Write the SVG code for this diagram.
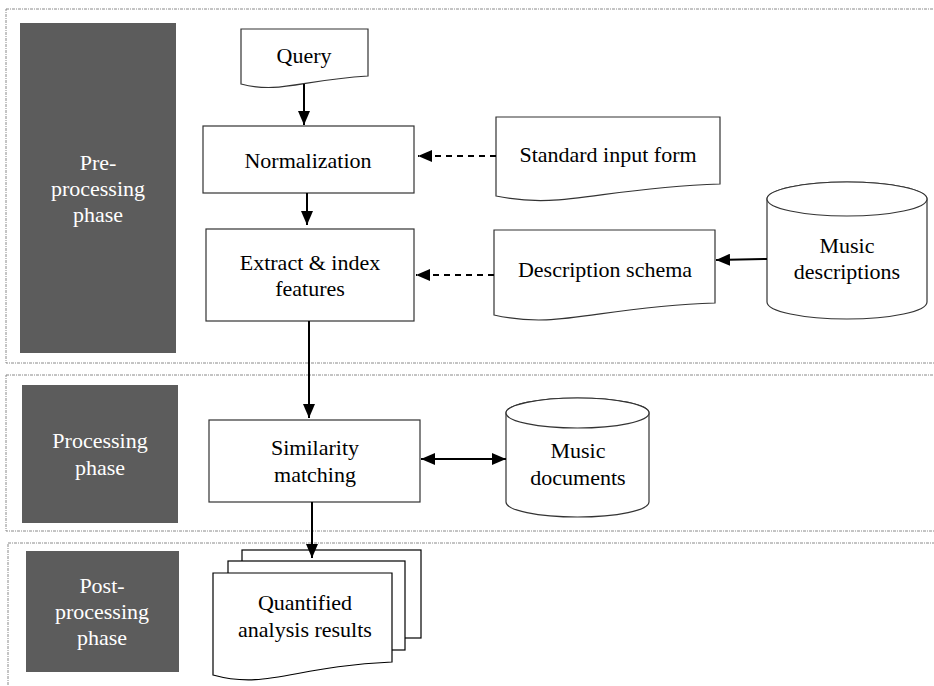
<svg xmlns="http://www.w3.org/2000/svg" width="934" height="686" viewBox="0 0 934 686">
<defs>
<marker id="ah" viewBox="0 0 14 12" refX="14" refY="6" markerWidth="14" markerHeight="12" markerUnits="userSpaceOnUse" orient="auto-start-reverse">
<path d="M0,0 L14,6 L0,12 Z" fill="#000"/>
</marker>
</defs>
<rect width="934" height="686" fill="#fff"/>
<g id="panels" fill="none" stroke="#8a8a8a" stroke-width="1" stroke-dasharray="3 1 1 1">
<rect x="6" y="9" width="940" height="354"/>
<rect x="6" y="375" width="940" height="156"/>
<rect x="8" y="543" width="940" height="160"/>
</g>
<g id="phase-pre">
<rect fill="#5c5c5c" x="20" y="23" width="156" height="330"/>
<text font-family="Liberation Serif" font-size="22" fill="#fff" text-anchor="middle" x="98" y="170">Pre-</text>
<text font-family="Liberation Serif" font-size="22" fill="#fff" text-anchor="middle" x="98" y="196">processing</text>
<text font-family="Liberation Serif" font-size="22" fill="#fff" text-anchor="middle" x="98" y="222">phase</text>
</g>
<g id="phase-processing">
<rect fill="#5c5c5c" x="22" y="385" width="156" height="138"/>
<text font-family="Liberation Serif" font-size="22" fill="#fff" text-anchor="middle" x="100" y="448">Processing</text>
<text font-family="Liberation Serif" font-size="22" fill="#fff" text-anchor="middle" x="100" y="475">phase</text>
</g>
<g id="phase-post">
<rect fill="#5c5c5c" x="26" y="551" width="153" height="121"/>
<text font-family="Liberation Serif" font-size="22" fill="#fff" text-anchor="middle" x="102" y="593">Post-</text>
<text font-family="Liberation Serif" font-size="22" fill="#fff" text-anchor="middle" x="102" y="619">processing</text>
<text font-family="Liberation Serif" font-size="22" fill="#fff" text-anchor="middle" x="102" y="645">phase</text>
</g>
<g id="query">
<path fill="#fff" stroke="#333" stroke-width="1.2" d="M241,29 H368 V76 C300,80 280,94 241,84 Z"/>
<text font-family="Liberation Serif" font-size="22" fill="#000" text-anchor="middle" x="304" y="63">Query</text>
</g>
<g id="normalization">
<rect fill="#fff" stroke="#333" stroke-width="1.2" x="203" y="126" width="211" height="67"/>
<text font-family="Liberation Serif" font-size="22" fill="#000" text-anchor="middle" x="308" y="168">Normalization</text>
</g>
<g id="extract">
<rect fill="#fff" stroke="#333" stroke-width="1.2" x="206" y="229" width="208" height="92"/>
<text font-family="Liberation Serif" font-size="22" fill="#000" text-anchor="middle" x="310" y="270">Extract &amp; index</text>
<text font-family="Liberation Serif" font-size="22" fill="#000" text-anchor="middle" x="310" y="296">features</text>
</g>
<g id="standard-input">
<path fill="#fff" stroke="#333" stroke-width="1.2" d="M496,117 H720 V184 C599,188 563,210 496,196 Z"/>
<text font-family="Liberation Serif" font-size="22" fill="#000" text-anchor="middle" x="608" y="162">Standard input form</text>
</g>
<g id="description-schema">
<path fill="#fff" stroke="#333" stroke-width="1.2" d="M494,230 H715 V303 C596,307 560,330 494,315 Z"/>
<text font-family="Liberation Serif" font-size="22" fill="#000" text-anchor="middle" x="605" y="277">Description schema</text>
</g>
<g id="music-descriptions">
<path fill="#fff" stroke="#333" stroke-width="1.2" d="M767,199 V302 A80,17 0 0 0 927,302 V199 A80,17 0 0 0 767,199 Z"/>
<ellipse fill="#fff" stroke="#333" stroke-width="1.2" cx="847" cy="199" rx="80" ry="17"/>
<text font-family="Liberation Serif" font-size="22" fill="#000" text-anchor="middle" x="847" y="253">Music</text>
<text font-family="Liberation Serif" font-size="22" fill="#000" text-anchor="middle" x="847" y="279">descriptions</text>
</g>
<g id="similarity">
<rect fill="#fff" stroke="#333" stroke-width="1.2" x="209" y="420" width="211" height="82"/>
<text font-family="Liberation Serif" font-size="22" fill="#000" text-anchor="middle" x="315" y="455">Similarity</text>
<text font-family="Liberation Serif" font-size="22" fill="#000" text-anchor="middle" x="315" y="482">matching</text>
</g>
<g id="music-documents">
<path fill="#fff" stroke="#333" stroke-width="1.2" d="M506,413 V502 A71.5,15 0 0 0 649,502 V413 A71.5,15 0 0 0 506,413 Z"/>
<ellipse fill="#fff" stroke="#333" stroke-width="1.2" cx="577.5" cy="413" rx="71.5" ry="15"/>
<text font-family="Liberation Serif" font-size="22" fill="#000" text-anchor="middle" x="578" y="458">Music</text>
<text font-family="Liberation Serif" font-size="22" fill="#000" text-anchor="middle" x="578" y="485">documents</text>
</g>
<g id="results">
<rect fill="#fff" stroke="#000" stroke-width="1.2" x="242" y="550" width="179" height="88"/>
<rect fill="#fff" stroke="#000" stroke-width="1.2" x="228" y="561" width="177" height="89"/>
<path fill="#fff" stroke="#000" stroke-width="1.2" d="M213,573 H392 V662 C295,666 267,690 213,675 Z"/>
<text font-family="Liberation Serif" font-size="22" fill="#000" text-anchor="middle" x="305" y="610">Quantified</text>
<text font-family="Liberation Serif" font-size="22" fill="#000" text-anchor="middle" x="305" y="637">analysis results</text>
</g>
<g id="connectors" fill="none" stroke="#000" stroke-width="2">
<line x1="304" y1="84" x2="304" y2="125" marker-end="url(#ah)"/>
<line x1="307" y1="193" x2="307" y2="225" marker-end="url(#ah)"/>
<line x1="309" y1="321" x2="309" y2="418" marker-end="url(#ah)"/>
<line x1="312" y1="502" x2="312" y2="558" marker-end="url(#ah)"/>
<line stroke-dasharray="6 5" x1="496" y1="156" x2="418" y2="156" marker-end="url(#ah)"/>
<line stroke-dasharray="6 5" x1="494" y1="275" x2="416" y2="275" marker-end="url(#ah)"/>
<line x1="767" y1="259" x2="716" y2="260" marker-end="url(#ah)"/>
<line x1="421" y1="459" x2="506" y2="459" marker-start="url(#ah)" marker-end="url(#ah)"/>
</g>
</svg>
